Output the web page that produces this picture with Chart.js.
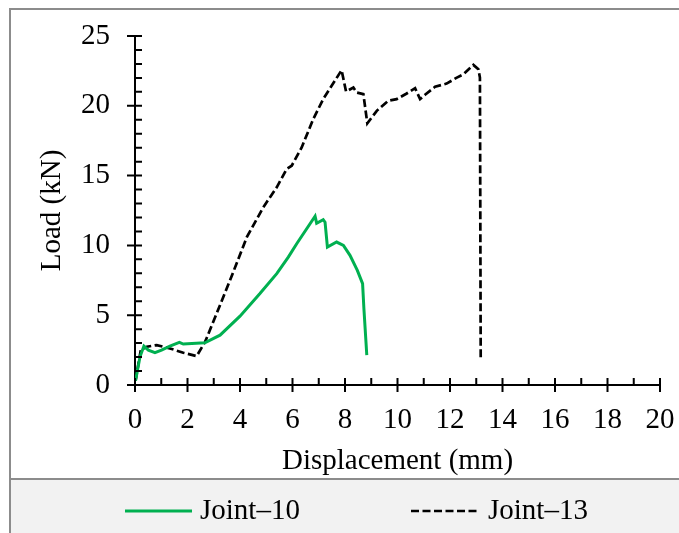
<!DOCTYPE html>
<html>
<head>
<meta charset="utf-8">
<script src="https://cdn.jsdelivr.net/npm/chart.js@4.4.1/dist/chart.umd.min.js"></script>
<style>
  html, body { margin: 0; padding: 0; background: #fff; }
  #wrap { width: 679px; height: 533px; }
</style>
</head>
<body>
<div id="wrap"><canvas id="chart" width="679" height="533"></canvas></div>
<script>
// Joint-10 (green, solid)
const joint10X = [0.02, 0.19, 0.34, 0.51, 0.76, 1.01, 1.33, 1.69, 1.84, 2.66, 3.24, 4.0, 4.76, 5.4, 5.84, 6.16, 6.86, 6.92, 7.17, 7.24, 7.33, 7.68, 7.94, 8.19, 8.47, 8.67, 8.72, 8.83];
const joint10Y = [0.3, 2.02, 2.79, 2.5, 2.31, 2.5, 2.79, 3.05, 2.93, 3.02, 3.57, 4.93, 6.55, 7.98, 9.16, 10.12, 12.09, 11.59, 11.84, 11.66, 9.88, 10.24, 10.0, 9.29, 8.21, 7.26, 5.48, 2.14];

// Joint-13 (black, dashed)
const joint13X = [0.02, 0.22, 0.45, 0.83, 1.33, 1.84, 2.35, 2.67, 3.11, 3.62, 4.26, 4.89, 5.4, 5.78, 5.97, 6.35, 6.79, 7.17, 7.87, 8.04, 8.32, 8.45, 8.7, 8.85, 9.21, 9.65, 9.97, 10.35, 10.67, 10.86, 11.05, 11.43, 11.87, 12.26, 12.51, 12.89, 13.08, 13.14, 13.17];
const joint13Y = [0.3, 2.5, 2.74, 2.86, 2.62, 2.31, 2.07, 3.09, 5.12, 7.5, 10.59, 12.74, 14.16, 15.48, 15.71, 17.02, 19.05, 20.48, 22.55, 21.02, 21.31, 20.95, 20.84, 18.74, 19.64, 20.36, 20.48, 20.88, 21.26, 20.48, 20.79, 21.36, 21.59, 22.02, 22.26, 22.93, 22.62, 22.02, 1.79];

const xLabels = [0, 2, 4, 6, 8, 10, 12, 14, 16, 18, 20];
const yLabels = [0, 5, 10, 15, 20, 25];

const toPoints = (xs, ys) => xs.map((x, i) => ({x, y: ys[i]}));

const FONT = {family: '"Liberation Serif", "Times New Roman", serif', size: 29};

// frame, grey legend band and the cross/inside tick marks
const decor = {
  id: 'decor',
  beforeDraw(chart) {
    const ctx = chart.ctx;
    ctx.save();
    ctx.fillStyle = '#f2f2f2';
    ctx.fillRect(11, 479, chart.width - 11, chart.height - 479);
    ctx.strokeStyle = '#8c8c8c';
    ctx.lineWidth = 2;
    ctx.beginPath();
    ctx.moveTo(10, chart.height);
    ctx.lineTo(10, 9);
    ctx.lineTo(chart.width, 9);
    ctx.moveTo(10, 479);
    ctx.lineTo(chart.width, 479);
    ctx.stroke();
    ctx.restore();
  },
  afterDraw(chart) {
    const ctx = chart.ctx;
    const xs = chart.scales.x, ys = chart.scales.y;
    const xAxis = ys.getPixelForValue(0), yAxis = xs.getPixelForValue(0);
    ctx.save();
    ctx.strokeStyle = '#000';
    ctx.lineWidth = 2;
    ctx.beginPath();
    xs.ticks.forEach(t => {
      const px = xs.getPixelForValue(t.value);
      const major = xLabels.includes(t.value);
      ctx.moveTo(px, xAxis - 7);
      ctx.lineTo(px, major ? xAxis + 7 : xAxis);
    });
    ys.ticks.forEach(t => {
      const py = ys.getPixelForValue(t.value);
      const major = yLabels.includes(t.value);
      ctx.moveTo(major ? yAxis - 8 : yAxis, py);
      ctx.lineTo(yAxis + 7, py);
    });
    ctx.stroke();

    // legend
    const items = [{x0: 125, x1: 192}, {x0: 411, x1: 480}];
    const ly = 511;
    chart.data.datasets.forEach((ds, i) => {
      const it = items[i];
      ctx.strokeStyle = ds.borderColor;
      ctx.lineWidth = ds.borderWidth;
      ctx.setLineDash(ds.borderDash || []);
      ctx.beginPath();
      ctx.moveTo(it.x0, ly);
      ctx.lineTo(it.x1, ly);
      ctx.stroke();
      ctx.setLineDash([]);
      ctx.fillStyle = '#000';
      ctx.font = `${FONT.size}px ${FONT.family}`;
      ctx.textBaseline = 'middle';
      ctx.textAlign = 'left';
      ctx.fillText(ds.label, it.x1 + 8, ly);
    });
    ctx.restore();
  }
};

new Chart(document.getElementById('chart'), {
  type: 'line',
  data: {
    datasets: [{
      label: 'Joint\u201310',
      data: toPoints(joint10X, joint10Y),
      borderColor: '#00b050',
      borderWidth: 3,
      pointRadius: 0,
      tension: 0,
      fill: false
    }, {
      label: 'Joint\u201313',
      data: toPoints(joint13X, joint13Y),
      borderColor: '#000000',
      borderWidth: 2.7,
      borderDash: [8, 3.5],
      pointRadius: 0,
      tension: 0,
      fill: false
    }]
  },
  options: {
    responsive: false,
    animation: false,
    layout: {padding: {left: 11, top: 36, right: 19, bottom: 54}},
    plugins: {legend: {display: false}, tooltip: {enabled: false}},
    scales: {
      x: {
        type: 'linear',
        min: 0, max: 20,
        border: {color: '#000', width: 2},
        grid: {display: false, drawTicks: false},
        ticks: {
          stepSize: 1, autoSkip: false, maxRotation: 0, padding: 18,
          color: '#000', font: FONT,
          callback: v => xLabels.includes(v) ? String(v) : ''
        },
        title: {display: true, text: 'Displacement (mm)', color: '#000', font: FONT, padding: {top: 0, bottom: 0}},
        afterFit: s => { s.height = 94; s.paddingLeft = 0; s.paddingRight = 0; }
      },
      y: {
        min: 0, max: 25,
        border: {color: '#000', width: 2},
        grid: {display: false, drawTicks: false},
        ticks: {
          stepSize: 1, autoSkip: false, padding: 25,
          color: '#000', font: FONT,
          callback: v => yLabels.includes(v) ? String(v) : ''
        },
        title: {display: true, text: 'Load (kN)', color: '#000', font: FONT, padding: {top: 24, bottom: 0}},
        afterFit: s => { s.width = 124; s.paddingTop = 0; s.paddingBottom = 0; }
      }
    }
  },
  plugins: [decor]
});
</script>
</body>
</html>
